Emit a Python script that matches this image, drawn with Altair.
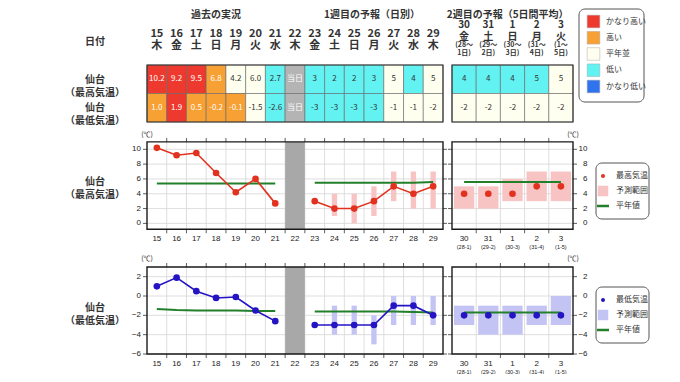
import altair as alt
import pandas as pd

FONT = "Noto Sans CJK JP"
NUMF = "Liberation Sans"

# ---------------- data ----------------
days_w1 = ["15", "16", "17", "18", "19", "20", "21", "22", "23", "24", "25", "26", "27", "28", "29"]
wdays_w1 = ["木", "金", "土", "日", "月", "火", "水", "木", "金", "土", "日", "月", "火", "水", "木"]
days_w2 = ["30", "31", "1", "2", "3"]
wdays_w2 = ["金", "土", "日", "月", "火"]
w2_from = ["(28〜", "(29〜", "(30〜", "(31〜", "(1〜"]
w2_to = ["1日)", "2日)", "3日)", "4日)", "5日)"]
w2_axis_sub = ["(28-1)", "(29-2)", "(30-3)", "(31-4)", "(1-5)"]

max_obs = [10.2, 9.2, 9.5, 6.8, 4.2, 6.0, 2.7]
min_obs = [1.0, 1.9, 0.5, -0.2, -0.1, -1.5, -2.6]
max_fc1 = [3, 2, 2, 3, 5, 4, 5]
min_fc1 = [-3, -3, -3, -3, -1, -1, -2]
max_fc2 = [4, 4, 4, 5, 5]
min_fc2 = [-2, -2, -2, -2, -2]

max_lo1 = [None, 1, 0, 1, 3, 2, 2]
max_hi1 = [None, 4, 4, 5, 7, 7, 7]
min_lo1 = [None, -4, -4, -5, -3, -3, -3]
min_hi1 = [None, -1, -1, -2, 0, 0, 0]
max_lo2 = [2, 2, 3, 3, 3]
max_hi2 = [5, 5, 6, 7, 7]
min_lo2 = [-3, -4, -4, -3, -3]
min_hi2 = [-1, -1, -1, -1, 0]

max_norm_obs = [5.4, 5.4, 5.4, 5.4, 5.4, 5.4, 5.4]
max_norm_fc1 = [5.5, 5.5, 5.5, 5.5, 5.5, 5.5, 5.6]
max_norm_fc2 = [5.6, 5.6, 5.6, 5.6, 5.6]
min_norm_obs = [-1.35, -1.45, -1.5, -1.5, -1.5, -1.55, -1.55]
min_norm_fc1 = [-1.6, -1.6, -1.6, -1.6, -1.6, -1.65, -1.7]
min_norm_fc2 = [-1.7, -1.7, -1.7, -1.7, -1.7]

max_cls1 = ["かなり高い", "かなり高い", "かなり高い", "高い", "平年並", "平年並", "低い", "当日",
            "低い", "低い", "低い", "低い", "平年並", "低い", "平年並"]
min_cls1 = ["高い", "かなり高い", "高い", "高い", "高い", "平年並", "低い", "当日",
            "低い", "低い", "低い", "低い", "平年並", "平年並", "平年並"]
max_cls2 = ["低い", "低い", "低い", "低い", "平年並"]
min_cls2 = ["平年並", "平年並", "平年並", "平年並", "平年並"]

classes = ["かなり高い", "高い", "平年並", "低い", "かなり低い", "当日"]
legend_classes = ["かなり高い", "高い", "平年並", "低い", "かなり低い"]
class_colors = ["#EE3A2E", "#F7A033", "#FFFFF0", "#62F2F2", "#2F74EE", "#B4B4B4"]
text_colors = ["#FFFFFF", "#FFFFFF", "#333333", "#333333", "#FFFFFF", "#FFFFFF"]

up_ticks = [0, 2, 4, 6, 8, 10]
lo_ticks = [-6, -4, -2, 0, 2]

# ---------------- geometry (scales) ----------------
UP_DOM, UP_RNG = [-0.8, 11], [221.3, 133.9]
LO_DOM, LO_RNG = [-6, 3], [346, 259]
P1_RNG, P2_RNG = [139, 435], [444, 565]
T_RNG = [57, 114]
N1, N2 = len(days_w1), len(days_w2)


def qs(dom, rng):
    return alt.Scale(domain=dom, range=rng, nice=False, zero=False)


def X1(f):
    return alt.X(f, type="quantitative", scale=qs([0, N1], P1_RNG), axis=None)


def X2p(f):
    return alt.X(f, type="quantitative", scale=qs([0, N2], P2_RNG), axis=None)


def YT(f):
    return alt.Y(f, type="quantitative", scale=qs([0, 2], T_RNG), axis=None)


cls_scale = alt.Scale(domain=classes, range=class_colors)
txt_scale = alt.Scale(domain=classes, range=text_colors)


def neg(s):
    return s.replace("-", "−")


layers = []

# ---------------- table ----------------
lab_max1 = [f"{v:.1f}" for v in max_obs] + ["当日"] + [str(v) for v in max_fc1]
lab_min1 = [f"{v:.1f}" for v in min_obs] + ["当日"] + [str(v) for v in min_fc1]
lab_max2 = [str(v) for v in max_fc2]
lab_min2 = [str(v) for v in min_fc2]


def table_df(cls_rows, lab_rows):
    rows = []
    for r, (cl, lb) in enumerate(zip(cls_rows, lab_rows)):
        for i, (c, l) in enumerate(zip(cl, lb)):
            rows.append(dict(x0=i, x1=i + 1, xc=i + 0.5, r0=r, r1=r + 1, rc=r + 0.5, cls=c, label=l))
    return pd.DataFrame(rows)


for XF, df, n in [(X1, table_df([max_cls1, min_cls1], [lab_max1, lab_min1]), N1),
                  (X2p, table_df([max_cls2, min_cls2], [lab_max2, lab_min2]), N2)]:
    layers.append(alt.Chart(df).mark_rect(stroke="#666666", strokeWidth=0.6).encode(
        x=XF("x0"), x2="x1", y=YT("r0"), y2="r1",
        color=alt.Color("cls:N", scale=cls_scale, legend=None)))
    layers.append(alt.Chart(df).mark_text(font=FONT, fontSize=8).encode(
        x=XF("xc"), y=YT("rc"), text="label",
        color=alt.Color("cls:N", scale=txt_scale, legend=None)))
    fr = pd.DataFrame({"x0": [0], "x1": [n], "r0": [0], "r1": [2]})
    layers.append(alt.Chart(fr).mark_rect(fillOpacity=0, stroke="#333333", strokeWidth=1.2).encode(
        x=XF("x0"), x2="x1", y=YT("r0"), y2="r1"))

# headers
h1 = pd.DataFrame({"x": [i + 0.5 for i in range(N1)], "day": days_w1, "wd": wdays_w1})
h2 = pd.DataFrame({"x": [i + 0.5 for i in range(N2)], "day": days_w2, "wd": wdays_w2,
                   "f": w2_from, "t": w2_to, "s": w2_axis_sub})
hstyle = dict(font=FONT, fontSize=11, fontWeight="bold", color="#333333")
hstyle2 = dict(font=FONT, fontSize=10, fontWeight="bold", color="#333333")
layers.append(alt.Chart(h1).mark_text(**hstyle).encode(x=X1("x"), y=alt.value(26), text="day"))
layers.append(alt.Chart(h1).mark_text(**hstyle).encode(x=X1("x"), y=alt.value(38), text="wd"))
layers.append(alt.Chart(h2).mark_text(**hstyle2).encode(x=X2p("x"), y=alt.value(17), text="day"))
layers.append(alt.Chart(h2).mark_text(**hstyle2).encode(x=X2p("x"), y=alt.value(28.5), text="wd"))
layers.append(alt.Chart(h2).mark_text(font=FONT, fontSize=7, fontWeight="bold", color="#333333").encode(
    x=X2p("x"), y=alt.value(36.5), text="f"))
layers.append(alt.Chart(h2).mark_text(font=FONT, fontSize=7, fontWeight="bold", color="#333333").encode(
    x=X2p("x"), y=alt.value(45), text="t"))

sec1 = pd.DataFrame({"x": [3.5, 11.4], "t": ["過去の実況", "1週目の予報（日別）"]})
sec2 = pd.DataFrame({"x": [2.3], "t": ["2週目の予報（5日間平均）"]})
sstyle = dict(font=FONT, fontSize=10, fontWeight="bold", color="#333333")
layers.append(alt.Chart(sec1).mark_text(**sstyle).encode(x=X1("x"), y=alt.value(7), text="t"))
layers.append(alt.Chart(sec2).mark_text(**sstyle).encode(x=X2p("x"), y=alt.value(7), text="t"))

# left labels
one = pd.DataFrame({"a": [0]})
lstyle = dict(font=FONT, fontSize=10, fontWeight="bold", color="#333333", lineBreak="\n", lineHeight=13)
for txt, yy in [("日付", 34), ("仙台\n（最高気温）", 72), ("仙台\n（最低気温）", 100),
                ("仙台\n（最高気温）", 174), ("仙台\n（最低気温）", 300)]:
    layers.append(alt.Chart(one).mark_text(**lstyle).encode(
        x=alt.value(87), y=alt.value(yy), text=alt.value(txt)))

# category legend
layers.append(alt.Chart(one).mark_rect(fill="white", stroke="#555555", strokeWidth=1, cornerRadius=6).encode(
    x=alt.value(571), x2=alt.value(636), y=alt.value(1), y2=alt.value(94)))
lg = pd.DataFrame({"i": list(range(len(legend_classes))), "cls": legend_classes})
LGY = alt.Y("i:Q", scale=qs([0, 4], [13.5, 78.5]), axis=None)
layers.append(alt.Chart(lg).mark_square(size=160, opacity=1, stroke="#AAAAAA", strokeWidth=0.5).encode(
    x=alt.value(585.5), y=LGY, color=alt.Color("cls:N", scale=cls_scale, legend=None)))
layers.append(alt.Chart(lg).mark_text(font=FONT, fontSize=8, align="left", color="#333333").encode(
    x=alt.value(598), y=LGY, text="cls"))


# ---------------- chart blocks ----------------
def chart_block(dom, rng, ticks, obs, fc1, fc2, n_obs, n_fc1, n_fc2, lo1, hi1, lo2, hi2,
                c_line, c_rng, xl_y, unit_y, leg_top, leg_name):
    L = []

    def YS(f):
        return alt.Y(f, type="quantitative", scale=qs(dom, rng), axis=None)

    gcol = "#D6D6D6"
    # vertical grid
    L.append(alt.Chart(pd.DataFrame({"x": list(range(1, N1)), "y0": dom[0], "y1": dom[1]}))
             .mark_rule(color=gcol, strokeWidth=0.8).encode(x=X1("x"), y=YS("y0"), y2="y1"))
    L.append(alt.Chart(pd.DataFrame({"x": list(range(1, N2)), "y0": dom[0], "y1": dom[1]}))
             .mark_rule(color=gcol, strokeWidth=0.8).encode(x=X2p("x"), y=YS("y0"), y2="y1"))
    # horizontal grid
    L.append(alt.Chart(pd.DataFrame({"y": ticks, "x0": 0, "x1": N1}))
             .mark_rule(color=gcol, strokeWidth=0.8).encode(x=X1("x0"), x2="x1", y=YS("y")))
    L.append(alt.Chart(pd.DataFrame({"y": ticks, "x0": 0, "x1": N2}))
             .mark_rule(color=gcol, strokeWidth=0.8).encode(x=X2p("x0"), x2="x1", y=YS("y")))
    # today band
    ti = days_w1.index("22")
    L.append(alt.Chart(pd.DataFrame({"x0": [ti], "x1": [ti + 1], "y0": dom[0], "y1": dom[1]}))
             .mark_rect(color="#A8A8A8").encode(x=X1("x0"), x2="x1", y=YS("y0"), y2="y1"))
    # forecast ranges
    r1 = pd.DataFrame([dict(x0=ti + 1 + i + 0.365, x1=ti + 1 + i + 0.635, lo=a, hi=b)
                       for i, (a, b) in enumerate(zip(lo1, hi1)) if a is not None])
    L.append(alt.Chart(r1).mark_rect(color=c_rng).encode(x=X1("x0"), x2="x1", y=YS("lo"), y2="hi"))
    r2 = pd.DataFrame([dict(x0=i + 0.08, x1=i + 0.92, lo=a, hi=b) for i, (a, b) in enumerate(zip(lo2, hi2))])
    L.append(alt.Chart(r2).mark_rect(color=c_rng).encode(x=X2p("x0"), x2="x1", y=YS("lo"), y2="hi"))
    # normals
    nm1 = pd.DataFrame([dict(x=i + 0.5, v=v, seg="a") for i, v in enumerate(n_obs)] +
                       [dict(x=ti + 1 + i + 0.5, v=v, seg="b") for i, v in enumerate(n_fc1)])
    L.append(alt.Chart(nm1).mark_line(color="#23802A", strokeWidth=2).encode(
        x=X1("x"), y=YS("v"), detail="seg:N"))
    nm2 = pd.DataFrame([dict(x=i + 0.5, v=v) for i, v in enumerate(n_fc2)])
    L.append(alt.Chart(nm2).mark_line(color="#23802A", strokeWidth=2).encode(x=X2p("x"), y=YS("v")))
    # observed / forecast values
    v1 = pd.DataFrame([dict(x=i + 0.5, v=v, seg="a") for i, v in enumerate(obs)] +
                      [dict(x=ti + 1 + i + 0.5, v=v, seg="b") for i, v in enumerate(fc1)])
    L.append(alt.Chart(v1).mark_line(color=c_line, strokeWidth=1.6).encode(
        x=X1("x"), y=YS("v"), detail="seg:N"))
    L.append(alt.Chart(v1).mark_circle(color=c_line, size=44, opacity=1).encode(x=X1("x"), y=YS("v")))
    v2 = pd.DataFrame([dict(x=i + 0.5, v=v) for i, v in enumerate(fc2)])
    L.append(alt.Chart(v2).mark_circle(color=c_line, size=44, opacity=1).encode(x=X2p("x"), y=YS("v")))
    # frames
    for XF, n in [(X1, N1), (X2p, N2)]:
        L.append(alt.Chart(pd.DataFrame({"x0": [0], "x1": [n], "y0": dom[0], "y1": dom[1]}))
                 .mark_rect(fillOpacity=0, stroke="#1A1A1A", strokeWidth=1.4).encode(
                     x=XF("x0"), x2="x1", y=YS("y0"), y2="y1"))
        tk = pd.DataFrame({"x": list(range(1, n)), "yb": dom[0], "yt": dom[1]})
        L.append(alt.Chart(tk).mark_tick(orient="vertical", size=4, thickness=1, color="#1A1A1A", yOffset=2)
                 .encode(x=XF("x"), y=YS("yb")))
        L.append(alt.Chart(tk).mark_tick(orient="vertical", size=4, thickness=1, color="#1A1A1A", yOffset=-2)
                 .encode(x=XF("x"), y=YS("yt")))
        yt = pd.DataFrame({"y": ticks, "xl": 0, "xr": n})
        L.append(alt.Chart(yt).mark_tick(orient="horizontal", size=4, thickness=1, color="#1A1A1A", xOffset=-2)
                 .encode(x=XF("xl"), y=YS("y")))
        L.append(alt.Chart(yt).mark_tick(orient="horizontal", size=4, thickness=1, color="#1A1A1A", xOffset=2)
                 .encode(x=XF("xr"), y=YS("y")))
    # tick labels
    ylab = pd.DataFrame({"y": ticks, "t": [neg(str(t)) for t in ticks]})
    L.append(alt.Chart(ylab).mark_text(font=NUMF, fontSize=8, align="right", color="#222222").encode(
        x=alt.value(133), y=YS("y"), text="t"))
    L.append(alt.Chart(ylab).mark_text(font=NUMF, fontSize=8, align="right", color="#222222").encode(
        x=alt.value(579.5), y=YS("y"), text="t"))
    L.append(alt.Chart(h1).mark_text(font=NUMF, fontSize=8, color="#222222").encode(
        x=X1("x"), y=alt.value(xl_y), text="day"))
    L.append(alt.Chart(h2).mark_text(font=NUMF, fontSize=8, color="#222222").encode(
        x=X2p("x"), y=alt.value(xl_y), text="day"))
    L.append(alt.Chart(h2).mark_text(font=NUMF, fontSize=5.5, color="#222222").encode(
        x=X2p("x"), y=alt.value(xl_y + 8), text="s"))
    for ux in [139, 565]:
        L.append(alt.Chart(one).mark_text(font=FONT, fontSize=7, color="#222222").encode(
            x=alt.value(ux), y=alt.value(unit_y), text=alt.value("(℃)")))
    # legend
    L.append(alt.Chart(one).mark_rect(fill="white", stroke="#555555", strokeWidth=1, cornerRadius=6).encode(
        x=alt.value(588), x2=alt.value(641), y=alt.value(leg_top), y2=alt.value(leg_top + 56)))
    L.append(alt.Chart(one).mark_circle(color=c_line, size=16, opacity=1).encode(
        x=alt.value(595), y=alt.value(leg_top + 13)))
    L.append(alt.Chart(one).mark_square(color=c_rng, size=110, opacity=1).encode(
        x=alt.value(595), y=alt.value(leg_top + 28)))
    L.append(alt.Chart(one).mark_rule(color="#23802A", strokeWidth=2.5).encode(
        x=alt.value(589), x2=alt.value(601), y=alt.value(leg_top + 43)))
    for k, t in enumerate([leg_name, "予測範囲", "平年値"]):
        L.append(alt.Chart(one).mark_text(font=FONT, fontSize=8, align="left", color="#333333").encode(
            x=alt.value(608), y=alt.value(leg_top + 13 + 15 * k), text=alt.value(t)))
    return L


layers += chart_block(UP_DOM, UP_RNG, up_ticks, max_obs, max_fc1, max_fc2,
                      max_norm_obs, max_norm_fc1, max_norm_fc2, max_lo1, max_hi1, max_lo2, max_hi2,
                      "#E2321F", "#F8C3C3", 231, 127, 155, "最高気温")
layers += chart_block(LO_DOM, LO_RNG, lo_ticks, min_obs, min_fc1, min_fc2,
                      min_norm_obs, min_norm_fc1, min_norm_fc2, min_lo1, min_hi1, min_lo2, min_hi2,
                      "#2414C4", "#C4C4F4", 356, 251, 279, "最低気温")

chart = alt.layer(*layers).resolve_scale(
    x="independent", y="independent", color="independent"
).properties(
    width=664, height=366, padding=0, autosize=alt.AutoSizeParams(type="none"), background="white"
).configure_view(strokeWidth=0)

chart.save("out.html", embed_options={"renderer": "svg", "actions": False})
